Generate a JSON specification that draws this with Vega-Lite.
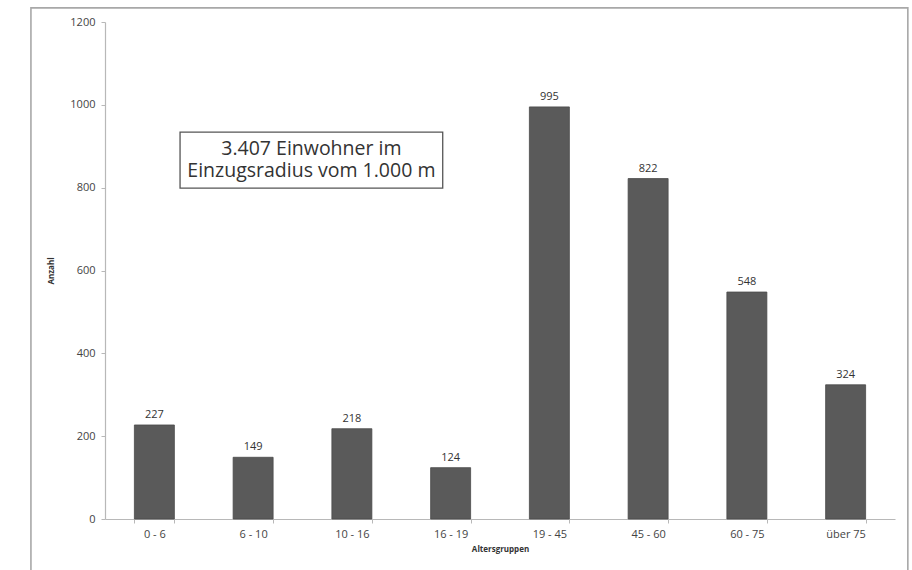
{
  "$schema": "https://vega.github.io/schema/vega-lite/v6.json",
  "width": 790,
  "height": 497,
  "autosize": {"type": "none"},
  "padding": {"left": 105, "top": 22, "right": 17, "bottom": 51},
  "background": "white",
  "config": {
    "view": {"stroke": null},
    "font": "Open Sans",
    "axis": {"labelFont": "Open Sans", "titleFont": "Open Sans", "grid": false}
  },
  "datasets": {
    "bars": [
      {"gruppe": "0 - 6", "anzahl": 227},
      {"gruppe": "6 - 10", "anzahl": 149},
      {"gruppe": "10 - 16", "anzahl": 218},
      {"gruppe": "16 - 19", "anzahl": 124},
      {"gruppe": "19 - 45", "anzahl": 995},
      {"gruppe": "45 - 60", "anzahl": 822},
      {"gruppe": "60 - 75", "anzahl": 548},
      {"gruppe": "über 75", "anzahl": 324}
    ],
    "one": [{"item": "note"}]
  },
  "layer": [
    {
      "data": {"name": "bars"},
      "layer": [
        {
          "mark": {"type": "bar", "color": "#5a5a5a", "stroke": "#4a4a4a", "strokeWidth": 0.8},
          "encoding": {
            "x": {
              "field": "gruppe", "type": "nominal", "sort": null,
              "scale": {"paddingInner": 0.595, "paddingOuter": 0.2975},
              "axis": {
                "title": "Altersgruppen", "titleFontSize": 8, "titleFontWeight": "bold", "titleColor": "#333",
                "titlePadding": 6,
                "labelAngle": 0, "labelFontSize": 11, "labelColor": "#444", "labelPadding": 5,
                "tickBand": "extent", "tickSize": 4, "tickColor": "#b8b8b8", "domainColor": "#b8b8b8", "domainWidth": 1.2
              }
            },
            "y": {
              "field": "anzahl", "type": "quantitative",
              "scale": {"domain": [0, 1200], "nice": false},
              "axis": {
                "title": "Anzahl", "titleFontSize": 8, "titleFontWeight": "bold", "titleColor": "#333",
                "titlePadding": 14,
                "values": [0, 200, 400, 600, 800, 1000, 1200], "format": "d",
                "labelFontSize": 11, "labelColor": "#444", "labelPadding": 6,
                "tickSize": 4, "tickColor": "#b8b8b8", "domainColor": "#b8b8b8", "domainWidth": 1.2
              }
            }
          }
        },
        {
          "mark": {"type": "text", "dy": -10, "fontSize": 11, "color": "#333", "font": "Open Sans"},
          "encoding": {
            "x": {"field": "gruppe", "type": "nominal", "sort": null},
            "y": {"field": "anzahl", "type": "quantitative", "scale": {"domain": [0, 1200], "nice": false}},
            "text": {"field": "anzahl", "type": "quantitative"}
          }
        }
      ]
    },
    {
      "data": {"name": "one"},
      "layer": [
        {
          "mark": {"type": "rect", "filled": false, "stroke": "#555", "strokeWidth": 1.3, "clip": false},
          "encoding": {
            "x": {"datum": 0.76, "type": "quantitative", "scale": {"domain": [0, 8], "nice": false, "zero": false}, "axis": null},
            "x2": {"datum": 3.42},
            "y": {"datum": 934, "type": "quantitative", "scale": {"domain": [0, 1200], "nice": false}},
            "y2": {"datum": 799}
          }
        },
        {
          "mark": {"type": "text", "fontSize": 19.5, "lineHeight": 22, "color": "#333", "align": "center", "baseline": "alphabetic", "font": "Open Sans"},
          "encoding": {
            "x": {"datum": 2.09, "type": "quantitative", "scale": {"domain": [0, 8], "nice": false, "zero": false}, "axis": null},
            "y": {"datum": 879, "type": "quantitative", "scale": {"domain": [0, 1200], "nice": false}},
            "text": {"value": ["3.407 Einwohner im", "Einzugsradius vom 1.000 m"]}
          }
        },
        {
          "mark": {"type": "rect", "filled": false, "stroke": "#a8a8a8", "strokeWidth": 1.6, "clip": false},
          "encoding": {
            "x": {"datum": -0.75, "type": "quantitative", "scale": {"domain": [0, 8], "nice": false, "zero": false}, "axis": null},
            "x2": {"datum": 8.13},
            "y": {"datum": 1234, "type": "quantitative", "scale": {"domain": [0, 1200], "nice": false}},
            "y2": {"datum": -200}
          }
        }
      ]
    }
  ],
  "resolve": {"scale": {"x": "independent"}}
}
